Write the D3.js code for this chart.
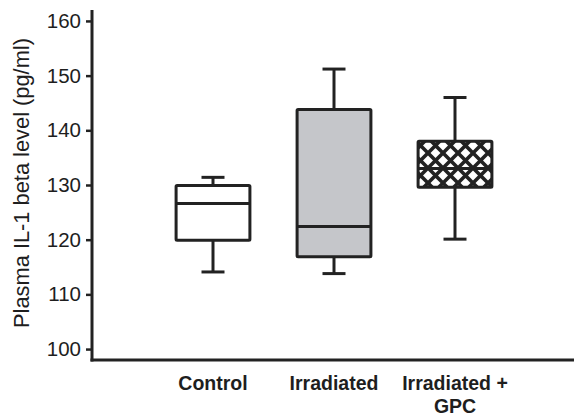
<!DOCTYPE html>
<html>
<head>
<meta charset="utf-8">
<script src="https://cdn.jsdelivr.net/npm/d3@7"></script>
<style>
  html, body { margin: 0; padding: 0; background: #fff; }
  svg { display: block; }
  text { font-family: "Liberation Sans", Arial, sans-serif; fill: #1e1e1e; }
</style>
</head>
<body>
<div id="chart"></div>
<script>
// box plot values
const categories = ['Control', 'Irradiated', 'Irradiated + GPC'];
const labelLines = [['Control'], ['Irradiated'], ['Irradiated +', 'GPC']];
const whiskerLow = [114.1, 113.8, 120.1];
const q1 = [119.9, 116.9, 129.6];
const median = [126.6, 122.4, 133.0];
const q3 = [129.9, 143.8, 138.0];
const whiskerHigh = [131.4, 151.2, 146.0];
const fills = ['#ffffff', '#c5c6ca', 'url(#hatch)'];
const yTicks = [100, 110, 120, 130, 140, 150, 160];

const width = 574, height = 418;
const ink = '#222';

const svg = d3.select('#chart').append('svg')
    .attr('width', width)
    .attr('height', height);

// crosshatch fill for the last box
const pat = svg.append('defs').append('pattern')
    .attr('id', 'hatch')
    .attr('patternUnits', 'userSpaceOnUse')
    .attr('width', 15)
    .attr('height', 15)
    .attr('x', 3)
    .attr('y', 3);
pat.append('rect').attr('width', 15).attr('height', 15).attr('fill', '#fff');
pat.append('path')
    .attr('d', 'M-2,-2 L17,17 M17,-2 L-2,17')
    .attr('stroke', ink)
    .attr('stroke-width', 3.6);

const y = d3.scaleLinear().domain([98, 162]).range([360, 10]);
const x = d3.scaleBand().domain(categories).range([152.5, 515.5])
    .paddingInner(0.39)
    .paddingOuter(0.195);

const data = categories.map((c, i) => ({
    name: c,
    lines: labelLines[i],
    lo: whiskerLow[i], q1: q1[i], med: median[i], q3: q3[i], hi: whiskerHigh[i],
    fill: fills[i]
}));

// y axis
const yAxis = d3.axisLeft(y).tickValues(yTicks).tickSize(6).tickPadding(5);
const ya = svg.append('g')
    .attr('transform', 'translate(92,0)')
    .call(yAxis);
ya.select('.domain').remove();
ya.selectAll('.tick line').attr('stroke', ink).attr('stroke-width', 2.5);
ya.selectAll('.tick text')
    .style('font-size', '20.5px')
    .attr('fill', '#1e1e1e');

svg.append('line')
    .attr('x1', 92).attr('x2', 92)
    .attr('y1', y(162)).attr('y2', 361.5)
    .attr('stroke', ink).attr('stroke-width', 3);

// x axis line
svg.append('line')
    .attr('x1', 90.5).attr('x2', width)
    .attr('y1', 360).attr('y2', 360)
    .attr('stroke', ink).attr('stroke-width', 3);

// y title, sized to span the same length as in the figure
const title = svg.append('text')
    .attr('transform', 'translate(28.5,183) rotate(-90)')
    .attr('text-anchor', 'middle')
    .style('font-size', '20px')
    .text('Plasma IL-1 beta level (pg/ml)');
const len = title.node().getComputedTextLength();
if (len > 0) title.style('font-size', (20 * 290 / len) + 'px');

// boxes
const bw = x.bandwidth();
const capW = 23;
const box = svg.append('g')
    .selectAll('g')
    .data(data)
    .join('g')
    .attr('transform', d => `translate(${x(d.name) + bw / 2},0)`);

box.append('line')
    .attr('y1', d => y(d.hi)).attr('y2', d => y(d.lo))
    .attr('stroke', ink).attr('stroke-width', 3);

box.append('line')
    .attr('x1', -capW / 2).attr('x2', capW / 2)
    .attr('y1', d => y(d.hi)).attr('y2', d => y(d.hi))
    .attr('stroke', ink).attr('stroke-width', 3);

box.append('line')
    .attr('x1', -capW / 2).attr('x2', capW / 2)
    .attr('y1', d => y(d.lo)).attr('y2', d => y(d.lo))
    .attr('stroke', ink).attr('stroke-width', 3);

box.append('rect')
    .attr('x', -bw / 2)
    .attr('width', bw)
    .attr('y', d => y(d.q3))
    .attr('height', d => y(d.q1) - y(d.q3))
    .attr('fill', d => d.fill)
    .attr('stroke', ink)
    .attr('stroke-width', 3)
    .attr('rx', 1);

box.append('line')
    .attr('x1', -bw / 2).attr('x2', bw / 2)
    .attr('y1', d => y(d.med)).attr('y2', d => y(d.med))
    .attr('stroke', ink).attr('stroke-width', 3);

// category labels
box.append('text')
    .attr('text-anchor', 'middle')
    .style('font-size', '19.5px')
    .style('font-weight', 'bold')
    .selectAll('tspan')
    .data(d => d.lines)
    .join('tspan')
    .attr('x', 0)
    .attr('y', (d, i) => 390 + i * 22.5)
    .text(d => d);
</script>
</body>
</html>
